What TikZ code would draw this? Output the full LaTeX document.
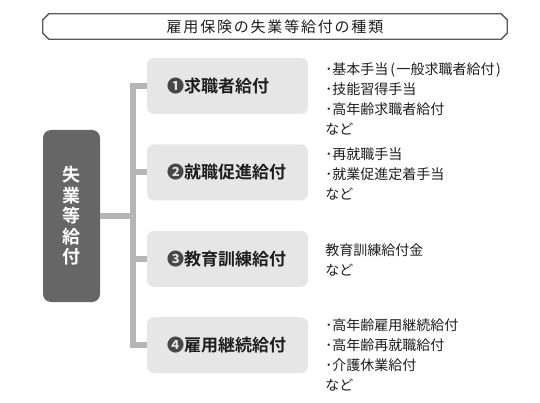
\documentclass[tikz,border=0pt]{standalone}
\usepackage{fontspec}
\setmainfont{Noto Sans CJK JP}[BoldFont={* Bold}]
\usetikzlibrary{positioning}
\definecolor{linkgray}{HTML}{B5B5B5}
\definecolor{boxgray}{HTML}{E6E6E6}
\definecolor{darkbox}{HTML}{666666}
\definecolor{inkgray}{HTML}{1E1E1E}
\newcommand{\catnum}[1]{\textcolor{black!72}{#1}}
\tikzset{
    titlebox/.style={rectangle, minimum width=464pt, minimum height=25pt, inner sep=0pt, font=\fontsize{15}{17}\selectfont, text=inkgray},
    titleframe/.style={draw=black!65, line width=1.3pt, line join=miter},
    totalbox/.style={rectangle, rounded corners=8pt, fill=darkbox, minimum width=57pt, minimum height=172pt, text=white, align=center, font=\fontsize{18}{20.5}\selectfont\bfseries},
    catbox/.style={rectangle, rounded corners=7pt, fill=boxgray, minimum width=161pt, minimum height=56pt, text width=121pt, inner xsep=20pt, align=left, font=\fontsize{17}{20}\selectfont\bfseries, text=inkgray},
    detail/.style={inner sep=0pt, align=left, font=\fontsize{14}{20}\selectfont, text=inkgray},
    linkline/.style={draw=linkgray, line width=6pt},
}

\begin{document}
\begin{tikzpicture}[x=1pt, y=-1pt]
\useasboundingbox (0,0) rectangle (540,403);
\node[titlebox] (title) at (275,26.5) {\addfontfeature{LetterSpace=12}雇用保険の失業等給付の種類};
\draw[titleframe] ([xshift=6pt]title.north west) -- ([xshift=-6pt]title.north east)
  -- ([yshift=-6pt]title.north east) -- ([yshift=6pt]title.south east)
  -- ([xshift=-6pt]title.south east) -- ([xshift=6pt]title.south west)
  -- ([yshift=6pt]title.south west) -- ([yshift=-6pt]title.north west) -- cycle;
\node[totalbox] (total) at (71.5,216) {失\\業\\等\\給\\付};
\node[catbox] (c1) at (227.5,86) {\catnum{❶}求職者給付};
\node[catbox, below=30pt of c1] (c2) {\catnum{❷}就職促進給付};
\node[catbox, below=30pt of c2] (c3) {\catnum{❸}教育訓練給付};
\node[catbox, below=30pt of c3] (c4) {\catnum{❹}雇用継続給付};
\node[detail, right=17pt of c1, yshift=-13pt] (d1) {･基本手当\hspace{2pt}(\hspace{1.5pt}一般求職者給付\hspace{1.5pt})\\･技能習得手当\\･高年齢求職者給付\\など};
\node[detail, right=17pt of c2, yshift=-1.5pt] (d2) {･再就職手当\\･就業促進定着手当\\など};
\node[detail, right=17pt of c3, yshift=-1pt] (d3) {教育訓練給付金\\など};
\node[detail, right=17pt of c4, yshift=-10pt] (d4) {･高年齢雇用継続給付\\･高年齢再就職給付\\･介護休業給付\\など};

\coordinate (spine) at ([xshift=-14pt]c1.west);
\draw[linkline] (total.east) -- (total.east -| spine);
\draw[linkline] (c1.west) -- (spine) |- (c4.west);
\draw[linkline] (c2.west) -- (c2.west -| spine);
\draw[linkline] (c3.west) -- (c3.west -| spine);
\end{tikzpicture}
\end{document}
